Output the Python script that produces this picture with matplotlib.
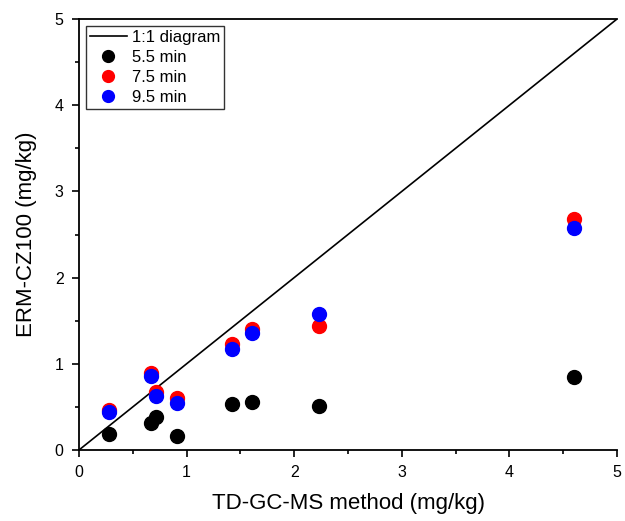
import numpy as np
import matplotlib
matplotlib.use("Agg")
import matplotlib.pyplot as plt

plt.rcParams['font.family'] = ['Liberation Sans', 'DejaVu Sans']

# TD-GC-MS method (mg/kg)
td_gcms = [0.28, 0.67, 0.72, 0.91, 1.42, 1.61, 2.23, 4.60]
# ERM-CZ100 (mg/kg) for each extraction time
erm_55 = [0.18, 0.31, 0.38, 0.16, 0.53, 0.56, 0.51, 0.85]
erm_75 = [0.46, 0.89, 0.67, 0.60, 1.23, 1.40, 1.44, 2.68]
erm_95 = [0.44, 0.86, 0.63, 0.55, 1.17, 1.36, 1.58, 2.57]
ref_line = [0, 5]

fig = plt.figure(figsize=(6.25, 5.21), dpi=100)
ax = fig.add_axes([0.1264, 0.1363, 0.8608, 0.8272])

ax.plot(ref_line, ref_line, color='black', lw=1.2, label='1:1 diagram')
ax.plot(td_gcms, erm_55, 'o', color='black', ms=10, label='5.5 min')
ax.plot(td_gcms, erm_75, 'o', color='red', ms=10, label='7.5 min')
ax.plot(td_gcms, erm_95, 'o', color='blue', ms=10, label='9.5 min')

ax.set_xlim(0, 5)
ax.set_ylim(0, 5)
ax.set_xticks(np.arange(0, 6, 1))
ax.set_yticks(np.arange(0, 6, 1))
ax.set_xticks(np.arange(0.5, 5, 1), minor=True)
ax.set_yticks(np.arange(0.5, 5, 1), minor=True)
ax.tick_params(which='both', direction='out', width=1.2, labelsize=11.5, pad=6,
               top=False, right=False)
ax.tick_params(which='major', length=5)
ax.tick_params(which='minor', length=3)
ax.spines['right'].set_visible(False)
for s in ['left', 'bottom', 'top']:
    ax.spines[s].set_linewidth(1.3)

ax.set_xlabel('TD-GC-MS method (mg/kg)', fontsize=16, labelpad=9)
ax.set_ylabel('ERM-CZ100 (mg/kg)', fontsize=16, labelpad=13)

leg = ax.legend(loc='upper left', fontsize=12, fancybox=False, edgecolor='black',
                markerscale=0.85, handlelength=2.2, borderpad=0.25, labelspacing=0.3,
                handletextpad=0.3, borderaxespad=0.4)
leg.get_frame().set_linewidth(1.0)

fig.savefig('out.png', dpi=100)
